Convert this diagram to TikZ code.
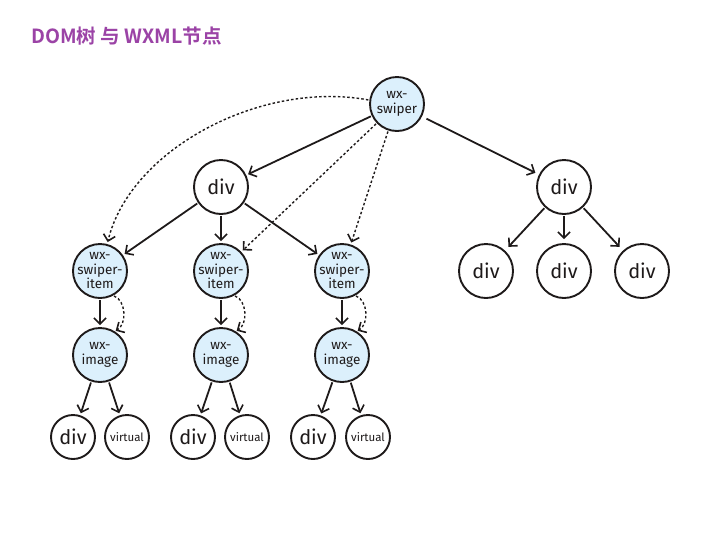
\documentclass[tikz,border=0pt]{standalone}
\usepackage{fontspec}
\setmainfont{Fira Sans}
\newfontfamily\cjkbold{Noto Sans CJK SC Bold}
\usetikzlibrary{arrows.meta}
\definecolor{titlepurple}{HTML}{9B43A6}
\definecolor{nodeblue}{HTML}{DCF0FC}
\definecolor{inkc}{HTML}{1E1A1A}
\tikzset{
  circ/.style={circle,draw=inkc,line width=1.9pt,minimum size=54pt,inner sep=0pt,align=center,font=\fontsize{20}{21}\selectfont,text=inkc},
  bluec/.style={circ,fill=nodeblue,inner sep=-8pt,font=\fontsize{13.5}{14.5}\selectfont},
  smallc/.style={circ,minimum size=44pt},
  virt/.style={smallc,inner sep=-4pt,font=\fontsize{11.5}{12}\selectfont},
  edge/.style={draw=inkc,line width=1.8pt,-{Straight Barb[length=6pt,width=12pt,line width=1.6pt]},shorten >=2pt,shorten <=1pt},
  dedge/.style={edge,line width=1.4pt,dash pattern=on 2.5pt off 2.2pt}
}
\begin{document}
\begin{tikzpicture}[x=1pt,y=-1pt]
\useasboundingbox (0,0) rectangle (720,539);
\fill[white] (0,0) rectangle (720,539);
\node[anchor=west,text=titlepurple,font=\cjkbold\fontsize{19.5}{20}\selectfont,inner sep=0pt] (title) at (31,36) {DOM树 与 WXML节点};

\node[bluec] (sw) at (397,104) {wx-\\swiper};
\node[circ] (da) at (221,187) {div};
\node[circ] (db) at (564,187) {div};
\node[circ] (b1) at (486,271) {div};
\node[circ] (b2) at (564,271) {div};
\node[circ] (b3) at (642,271) {div};

\foreach \n/\x in {1/100,2/221,3/342}{
  \node[bluec] (i\n) at (\x,271) {wx-\\swiper-\\item};
  \node[bluec] (m\n) at (\x,355) {wx-\\image};
}
\node[smallc] (d1) at (73,437) {div};
\node[virt] (v1) at (127,437) {virtual};
\node[smallc] (d2) at (193,437) {div};
\node[virt] (v2) at (247,437) {virtual};
\node[smallc] (d3) at (313,437) {div};
\node[virt] (v3) at (368,437) {virtual};

\draw[edge] (sw) -- (da);
\draw[edge,shorten <=5pt,shorten >=4pt] (sw) -- (db);
\draw[dedge] (sw) -- (i2);
\draw[dedge] (sw) -- (i3);
\draw[dedge] (sw.172) .. controls (260,80) and (130,150) .. (i1.75);

\foreach \n in {1,2,3}{
  \draw[edge] (da) -- (i\n);
  \draw[edge] (i\n) -- (m\n);
  \draw[dedge,shorten >=1pt] (i\n.-62) to[out=-20,in=30] (m\n.58);
  \draw[edge] (m\n) -- (d\n);
  \draw[edge] (m\n) -- (v\n);
}
\draw[edge,shorten >=5pt] (db) -- (b1);
\draw[edge,shorten >=4pt] (db) -- (b2);
\draw[edge,shorten >=5pt] (db) -- (b3);
\end{tikzpicture}
\end{document}
